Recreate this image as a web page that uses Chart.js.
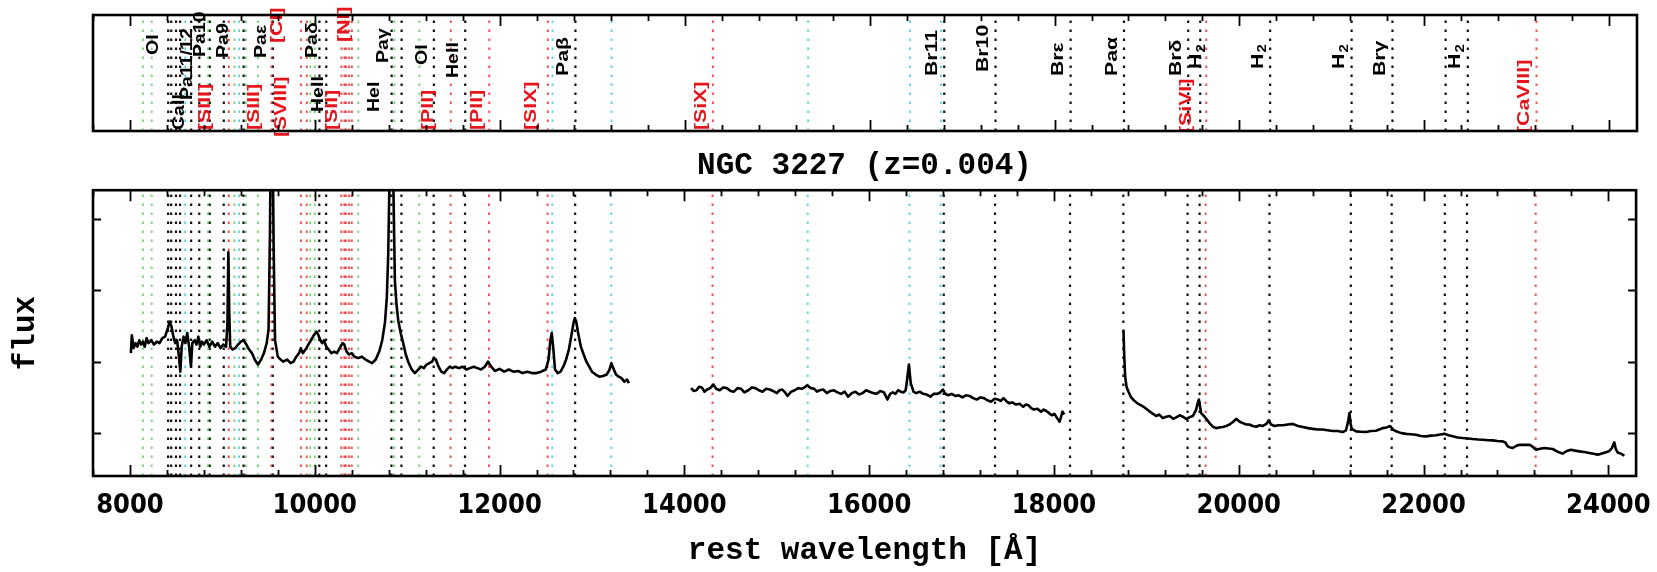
<!DOCTYPE html>
<html>
<head>
<meta charset="utf-8">
<script src="https://cdn.jsdelivr.net/npm/chart.js@4.4.0/dist/chart.umd.min.js"></script>
<style>
  html, body { margin: 0; padding: 0; background: #fff; }
  #wrap { position: relative; width: 1657px; height: 572px; background: #fff; }
  #lines { position: absolute; left: 0; top: 0; }
  #spec { position: absolute; left: 0; top: 140px; }
</style>
</head>
<body>
<div id="wrap">
  <canvas id="lines" width="1657" height="140"></canvas>
  <canvas id="spec" width="1657" height="432"></canvas>
</div>
<script>
// marked lines, rest wavelength [A]; kind: k = H/He/H2, r = forbidden, g = permitted, c = [FeII]
const lineWave = [8140, 8235, 8413, 8446, 8498, 8542, 8598, 8662, 8750, 8845, 8863, 9015, 9069, 9130, 9180, 9229, 9255, 9385,
  9531, 9546, 9850, 9913, 9950, 10000, 10049, 10123, 10287, 10320, 10336, 10370, 10400, 10470, 10830, 10860, 10938,
  11130, 11287, 11470, 11626, 11886, 12520, 12570, 12818, 13209, 14305, 15335, 16436, 16773, 16807, 17362, 18174,
  18751, 19446, 19576, 19641, 20332, 21213, 21655, 22230, 22470, 23213];
const lineKind = ['g', 'g', 'k', 'k', 'k', 'k', 'c', 'k', 'k', 'g', 'k', 'k', 'r', 'g', 'c', 'k', 'g', 'g',
  'r', 'k', 'r', 'r', 'g', 'g', 'k', 'k', 'r', 'r', 'r', 'r', 'r', 'g', 'k', 'g', 'k',
  'g', 'k', 'r', 'k', 'r', 'r', 'c', 'k', 'c', 'r', 'c', 'c', 'c', 'k', 'k', 'k',
  'k', 'k', 'k', 'r', 'k', 'k', 'k', 'k', 'k', 'r'];
const lineLabel = ['', '', '', 'OI', '', '', '', 'CaII', 'Pa11/12', '', '', 'Pa10', '[SIII]', '', '', 'Pa9', '', '',
  '[SIII]', 'Paε', '[CI]', '[SVIII]', '', '', 'Paδ', 'HeII', '', '[SII]', '', '', '[NI]', '', 'HeI', '', 'Paγ',
  '', 'OI', '[PII]', 'HeII', '[PII]', '[SIX]', '', 'Paβ', '', '[SiX]', '', '', '', 'Br11', 'Br10', 'Brε',
  'Paα', 'Brδ', 'H₂', '[SiVI]', 'H₂', 'H₂', 'Brγ', '', 'H₂', '[CaVIII]'];

// spectrum, three pieces (gaps are the telluric bands)
const wave1 = [8010, 8020, 8040, 8060, 8080, 8100, 8120, 8140, 8160, 8180, 8200, 8230, 8260, 8290, 8320, 8350, 8380, 8410,
  8430, 8450, 8470, 8490, 8510, 8530, 8545, 8560, 8580, 8600, 8620, 8640, 8660, 8675, 8700, 8720, 8740, 8760, 8780,
  8800, 8830, 8860, 8890, 8920, 8950, 8980, 9010, 9040, 9055, 9065, 9075, 9085, 9110, 9140, 9170, 9200, 9230, 9260,
  9290, 9320, 9350, 9385, 9420, 9450, 9480, 9500, 9515, 9525, 9535, 9545, 9555, 9570, 9600, 9630, 9660, 9700, 9740,
  9770, 9800, 9830, 9850, 9870, 9900, 9930, 9960, 9990, 10020, 10040, 10060, 10080, 10100, 10125, 10150, 10180,
  10210, 10240, 10270, 10300, 10320, 10345, 10370, 10400, 10430, 10470, 10510, 10550, 10590, 10620, 10660, 10700,
  10730, 10760, 10780, 10795, 10808, 10820, 10832, 10845, 10855, 10867, 10885, 10903, 10930, 10957, 10985, 11011,
  11045, 11083, 11120, 11150, 11180, 11210, 11240, 11270, 11290, 11310, 11340, 11370, 11400, 11430, 11460, 11490,
  11520, 11560, 11600, 11640, 11680, 11720, 11760, 11800, 11840, 11875, 11910, 11950, 12000, 12050, 12100, 12150,
  12200, 12250, 12300, 12350, 12400, 12450, 12500, 12530, 12550, 12565, 12580, 12600, 12630, 12660, 12690, 12720,
  12750, 12775, 12800, 12815, 12830, 12850, 12880, 12910, 12940, 12970, 13000, 13040, 13080, 13120, 13160, 13190,
  13210, 13230, 13260, 13290, 13320, 13350, 13380, 13400];
const flux1 = [2.12, 2.37, 2.19, 2.26, 2.21, 2.30, 2.24, 2.28, 2.21, 2.33, 2.26, 2.30, 2.24, 2.28, 2.26, 2.33, 2.35, 2.47,
  2.56, 2.49, 2.35, 2.26, 2.30, 2.07, 1.86, 2.21, 2.35, 2.26, 2.40, 2.21, 1.93, 2.26, 2.30, 2.24, 2.35, 2.21, 2.28,
  2.24, 2.30, 2.21, 2.28, 2.21, 2.26, 2.19, 2.24, 2.21, 2.54, 3.53, 2.68, 2.21, 2.17, 2.19, 2.24, 2.28, 2.30, 2.24,
  2.17, 2.12, 2.03, 1.96, 2.03, 2.12, 2.26, 2.45, 3.80, 5.20, 6.00, 5.00, 3.60, 2.30, 2.07, 2.03, 2.00, 2.03, 1.98,
  2.00, 2.07, 2.12, 2.19, 2.12, 2.17, 2.24, 2.30, 2.37, 2.42, 2.37, 2.30, 2.26, 2.30, 2.21, 2.17, 2.12,
  2.14, 2.12, 2.19, 2.26, 2.24, 2.14, 2.10, 2.12, 2.07, 2.05, 2.07, 2.03, 2.00, 1.98, 2.03, 2.15,
  2.30, 2.55, 2.90, 3.50, 4.50, 5.80, 6.20, 5.00, 4.10, 3.14, 2.80, 2.58, 2.40, 2.26, 2.10, 2.00,
  1.90, 1.84, 1.89, 1.93, 1.91, 1.96, 1.98, 2.00, 2.05, 2.03, 1.93, 1.86, 1.84, 1.89, 1.93, 1.91,
  1.93, 1.91, 1.93, 1.89, 1.91, 1.93, 1.91, 1.89, 1.93, 2.00, 1.93, 1.87, 1.90, 1.86, 1.89, 1.86,
  1.87, 1.84, 1.86, 1.84, 1.84, 1.86, 1.89, 2.03, 2.30, 2.40, 2.21, 1.89, 1.84, 1.86, 1.93, 2.03,
  2.17, 2.35, 2.54, 2.61, 2.56, 2.40, 2.21, 2.10, 2.00, 1.93, 1.86, 1.82, 1.79, 1.80, 1.82, 1.89,
  1.98, 1.91, 1.82, 1.79, 1.77, 1.72, 1.75, 1.70];

const wave2 = [14073, 14100, 14131, 14160, 14189, 14218, 14247, 14280, 14313, 14345, 14382, 14420, 14460, 14500, 14537,
  14575, 14614, 14650, 14692, 14730, 14769, 14808, 14846, 14885, 14923, 14960, 15001, 15030, 15059, 15090, 15117,
  15155, 15194, 15232, 15271, 15300, 15329, 15368, 15406, 15435, 15464, 15503, 15542, 15580, 15619, 15658, 15696,
  15735, 15773, 15812, 15851, 15890, 15928, 15967, 16005, 16044, 16082, 16120, 16160, 16198, 16227, 16256, 16285,
  16314, 16343, 16372, 16395, 16411, 16430, 16450, 16480, 16508, 16547, 16585, 16623, 16662, 16700, 16739, 16768,
  16797, 16826, 16855, 16893, 16932, 16970, 17010, 17048, 17087, 17125, 17164, 17203, 17242, 17280, 17319, 17357,
  17396, 17425, 17454, 17483, 17512, 17550, 17589, 17628, 17667, 17696, 17725, 17754, 17783, 17821, 17860, 17889,
  17918, 17947, 17976, 18005, 18034, 18061, 18075, 18092, 18111];
const flux2 = [1.63, 1.59, 1.60, 1.65, 1.64, 1.58, 1.61, 1.63, 1.68, 1.62, 1.60, 1.64, 1.63, 1.59, 1.58,
  1.63, 1.62, 1.57, 1.60, 1.64, 1.63, 1.60, 1.58, 1.62, 1.61, 1.59, 1.56, 1.60, 1.61, 1.57, 1.52,
  1.58, 1.60, 1.63, 1.62, 1.64, 1.67, 1.63, 1.62, 1.58, 1.60, 1.61, 1.56, 1.59, 1.60, 1.57, 1.55,
  1.58, 1.51, 1.56, 1.58, 1.54, 1.56, 1.60, 1.58, 1.56, 1.55, 1.59, 1.57, 1.47, 1.55, 1.57, 1.55,
  1.60, 1.58, 1.57, 1.60, 1.75, 1.96, 1.70, 1.58, 1.56, 1.58, 1.55, 1.54, 1.51, 1.55, 1.55, 1.57,
  1.61, 1.55, 1.53, 1.55, 1.52, 1.53, 1.50, 1.53, 1.52, 1.49, 1.47, 1.50, 1.49, 1.46, 1.44, 1.48,
  1.47, 1.45, 1.49, 1.45, 1.42, 1.43, 1.40, 1.41, 1.37, 1.40, 1.39, 1.35, 1.33, 1.34, 1.30, 1.33,
  1.31, 1.28, 1.25, 1.27, 1.21, 1.16, 1.22, 1.30, 1.26];

const wave3 = [18752, 18760, 18770, 18785, 18806, 18835, 18864, 18900, 18942, 18980, 19019, 19060, 19106, 19140, 19178,
  19215, 19251, 19290, 19323, 19360, 19395, 19430, 19449, 19480, 19503, 19539, 19555, 19568, 19580, 19593, 19629,
  19655, 19683, 19720, 19755, 19790, 19827, 19865, 19900, 19940, 19972, 20010, 20044, 20080, 20116, 20150, 20188,
  20225, 20260, 20300, 20325, 20350, 20386, 20430, 20477, 20530, 20585, 20640, 20693, 20750, 20801, 20855, 20909,
  20960, 21018, 21070, 21126, 21160, 21180, 21198, 21208, 21222, 21270, 21320, 21378, 21430, 21486, 21520, 21558,
  21600, 21638, 21670, 21703, 21760, 21811, 21860, 21919, 21970, 22027, 22080, 22135, 22180, 22225, 22270, 22315,
  22370, 22424, 22480, 22532, 22590, 22640, 22700, 22748, 22800, 22856, 22885, 22910, 22940, 22965, 23000, 23037,
  23090, 23145, 23180, 23217, 23260, 23307, 23350, 23397, 23450, 23505, 23550, 23595, 23640, 23686, 23740, 23794,
  23840, 23884, 23930, 23974, 24010, 24039, 24064, 24080, 24100, 24136, 24173];
const flux3 = [2.44, 2.10, 1.80, 1.65, 1.58, 1.50, 1.46, 1.42, 1.39, 1.36, 1.32, 1.28, 1.24, 1.26, 1.21,
  1.23, 1.24, 1.20, 1.22, 1.25, 1.23, 1.20, 1.21, 1.23, 1.24, 1.33, 1.42, 1.47, 1.38, 1.28, 1.23,
  1.19, 1.14, 1.09, 1.07, 1.08, 1.085, 1.10, 1.12, 1.16, 1.20, 1.16, 1.14, 1.12, 1.12, 1.10, 1.09,
  1.11, 1.10, 1.13, 1.18, 1.12, 1.10, 1.11, 1.11, 1.12, 1.13, 1.10, 1.085, 1.07, 1.06, 1.05, 1.05,
  1.04, 1.03, 1.03, 1.015, 1.04, 1.14, 1.28, 1.15, 1.06, 1.025, 1.02, 1.015, 1.03, 1.034, 1.05, 1.07,
  1.08, 1.10, 1.05, 1.025, 1.00, 0.99, 0.985, 0.978, 0.96, 0.955, 0.965, 0.97, 0.98, 0.99, 0.97, 0.955,
  0.94, 0.931, 0.925, 0.917, 0.91, 0.908, 0.90, 0.899, 0.89, 0.885, 0.87, 0.815, 0.80, 0.792, 0.82, 0.838,
  0.835, 0.838, 0.81, 0.768, 0.78, 0.792, 0.785, 0.778, 0.74, 0.713, 0.75, 0.768, 0.755, 0.745, 0.735, 0.722,
  0.71, 0.699, 0.715, 0.731, 0.75, 0.792, 0.871, 0.78, 0.73, 0.713, 0.685];

const xTicks = [8000, 10000, 12000, 14000, 16000, 18000, 20000, 22000, 24000];
const yTicks = [1, 2, 3, 4];
const xRange = [7600, 24300];
const yRange = [0.4, 4.4];

// ---- styles ----
const kindColor = { k: '#111111', r: 'rgba(232,55,55,0.85)', g: 'rgba(70,200,70,0.7)', c: 'rgba(60,205,215,0.8)' };
const labelColor = { k: '#000000', r: '#e8141c', g: '#000000', c: '#000000' };
// label layout: where the (upward running) text starts, px below panel top; defaults by colour
const labelStartDefault = { k: 61, r: 115 };
const labelStart = { 8446: 40, 8662: 115, 8750: 85, 9015: 42, 9229: 43, 9546: 43, 9850: 28, 9913: 122, 10049: 43,
  10123: 97, 10400: 27, 10830: 97, 10938: 48, 11287: 50, 11626: 63, 17362: 57, 19576: 54, 19641: 118,
  20332: 54, 21213: 54, 22470: 54, 23213: 118 };
// small sideways shifts where names crowd (px)
const labelNudge = { 8446: -6, 9015: -12, 9069: -12, 9229: -8, 9531: -5, 9850: -12, 9913: -14, 10049: 5, 10123: 4,
  10400: 4, 10830: -5, 10938: -6, 11470: -10, 12520: -5, 19576: 8, 19641: -8 };
const tickFont = "'Liberation Sans Narrow', 'DejaVu Sans Condensed', 'Liberation Sans', sans-serif";
const monoFont = "'Liberation Mono', 'DejaVu Sans Mono', monospace";
const tagFont = "'Liberation Sans', Arial, sans-serif";

function lineSets(y0, y1) {
  return lineWave.map((w, i) => ({
    data: [{ x: w, y: y0 }, { x: w, y: y1 }],
    showLine: true,
    pointRadius: 0,
    borderColor: kindColor[lineKind[i]],
    borderWidth: lineKind[i] === 'k' ? 2.2 : 2,
    borderDash: [2.5, 6.5],
    order: 1
  }));
}

function specSet(w, f) {
  return {
    data: w.map((x, i) => ({ x: x, y: f[i] })),
    showLine: true,
    pointRadius: 0,
    borderColor: '#000',
    borderWidth: 2.6,
    borderJoinStyle: 'round',
    order: 0
  };
}

// box with inward ticks, IDL style
const frame = {
  id: 'frame',
  afterDraw(chart, args, opts) {
    const { ctx, chartArea: a, scales } = chart;
    const xs = scales.x;
    ctx.save();
    ctx.strokeStyle = '#000';
    ctx.lineWidth = 1.8;
    ctx.beginPath();
    const step = xTicks[1] - xTicks[0];
    const sub = step / 5;
    for (let v = Math.ceil(xs.min / sub) * sub; v <= xs.max; v += sub) {
      const px = Math.round(xs.getPixelForValue(v)) + 0.5;
      const len = v % step === 0 ? 11 : 6;
      ctx.moveTo(px, a.bottom); ctx.lineTo(px, a.bottom - len);
      ctx.moveTo(px, a.top); ctx.lineTo(px, a.top + len);
    }
    if (opts.yTicks) {
      yTicks.forEach(v => {
        const py = Math.round(scales.y.getPixelForValue(v)) + 0.5;
        ctx.moveTo(a.left, py); ctx.lineTo(a.left + 8, py);
        ctx.moveTo(a.right, py); ctx.lineTo(a.right - 8, py);
      });
    }
    ctx.stroke();
    ctx.lineWidth = 2.6;
    ctx.strokeRect(a.left, a.top, a.width, a.height);
    ctx.restore();
  }
};

// rotated line names in the upper panel
const lineTags = {
  id: 'lineTags',
  afterDatasetsDraw(chart) {
    const { ctx, chartArea: a, scales } = chart;
    ctx.save();
    ctx.textAlign = 'left';
    ctx.textBaseline = 'middle';
    lineLabel.forEach((txt, i) => {
      if (!txt) return;
      const w = lineWave[i];
      const kind = lineKind[i];
      const start = w in labelStart ? labelStart[w] : labelStartDefault[kind];
      const x = scales.x.getPixelForValue(w) - 12 + (labelNudge[w] || 0);
      ctx.fillStyle = labelColor[kind];
      ctx.setTransform(1, 0, 0, 1, x, a.top + start);
      ctx.rotate(-Math.PI / 2);
      ctx.scale(kind === 'r' ? 1.25 : (w > 12000 ? 1.25 : 1.15), 1);
      ctx.font = 'bold 17px ' + tagFont;
      if (txt.indexOf('₂') > 0) {
        // H2: draw the subscript by hand so it stays readable
        const head = txt.replace('₂', '');
        ctx.fillText(head, 0, 0);
        const wHead = ctx.measureText(head).width;
        ctx.font = 'bold 12px ' + tagFont;
        ctx.fillText('2', wHead + 1, 5);
      } else {
        ctx.fillText(txt, 0, 0);
      }
    });
    ctx.restore();
  }
};

const xScale = {
  type: 'linear', min: xRange[0], max: xRange[1],
  afterBuildTicks: s => { s.ticks = xTicks.map(v => ({ value: v })); }
};

new Chart(document.getElementById('lines'), {
  type: 'scatter',
  data: { datasets: lineSets(0, 1) },
  options: {
    responsive: false, animation: false, devicePixelRatio: 1,
    layout: { padding: { left: 93, right: 20, top: 15, bottom: 9 } },
    scales: {
      x: Object.assign({ display: false }, xScale),
      y: { type: 'linear', min: 0, max: 1, display: false }
    },
    plugins: { legend: { display: false }, tooltip: { enabled: false }, frame: { yTicks: false } }
  },
  plugins: [frame, lineTags]
});

new Chart(document.getElementById('spec'), {
  type: 'scatter',
  data: { datasets: [specSet(wave1, flux1), specSet(wave2, flux2), specSet(wave3, flux3)].concat(lineSets(yRange[0], yRange[1])) },
  options: {
    responsive: false, animation: false, devicePixelRatio: 1,
    layout: { padding: { left: 0, right: 20, top: 0, bottom: 0 } },
    scales: {
      x: Object.assign({
        position: 'bottom',
        grid: { display: false },
        border: { display: false },
        ticks: { color: '#000', padding: 6, maxRotation: 0, callback: v => String(v),
          font: { family: tickFont, size: 27, weight: 'bold' } },
        title: { display: true, text: 'rest wavelength [Å]', color: '#000', padding: { top: 0, bottom: 2 },
          font: { family: monoFont, size: 31, weight: 'bold' } },
        afterFit: s => { s.height = 96; }
      }, xScale),
      y: {
        type: 'linear', min: yRange[0], max: yRange[1], position: 'left',
        afterBuildTicks: s => { s.ticks = yTicks.map(v => ({ value: v })); },
        grid: { display: false },
        border: { display: false },
        ticks: { display: false },
        title: { display: true, text: 'flux', color: '#000', padding: { top: 8, bottom: 0 },
          font: { family: monoFont, size: 31, weight: 'bold' } },
        afterFit: s => { s.width = 93; }
      }
    },
    plugins: {
      legend: { display: false }, tooltip: { enabled: false },
      title: { display: true, fullSize: false, text: 'NGC 3227 (z=0.004)', color: '#000', padding: { top: 8, bottom: 5 },
        font: { family: monoFont, size: 31, weight: 'bold' } },
      frame: { yTicks: true }
    }
  },
  plugins: [frame]
});
</script>
</body>
</html>
